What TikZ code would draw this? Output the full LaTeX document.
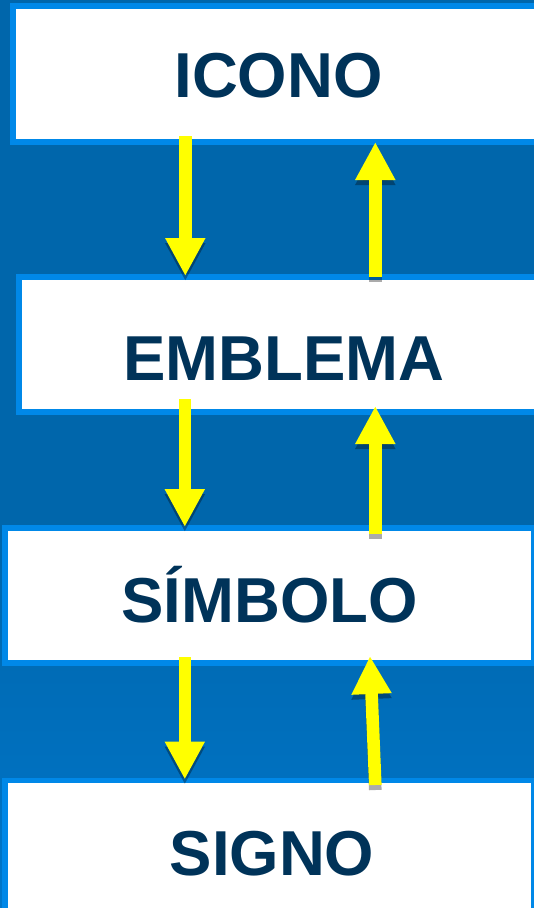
\documentclass[tikz,border=0pt]{standalone}
\usepackage{fontspec}
\setmainfont{Liberation Sans}
\usetikzlibrary{arrows.meta}
\definecolor{bgtop}{HTML}{0066AB}
\definecolor{bgbot}{HTML}{0076CA}
\definecolor{edgeblue}{HTML}{0088E8}
\definecolor{inkblue}{HTML}{003359}
\definecolor{arrowyellow}{HTML}{FFFF00}
\tikzset{
  boxnode/.style={rectangle,draw=edgeblue,fill=white,line width=5.6pt,anchor=north west,inner sep=0pt,outer sep=0pt},
  wordnode/.style={anchor=base,inner sep=0pt,text=inkblue,font=\fontsize{63.5}{70}\selectfont\bfseries},
  blockarrow/.style={line width=12.6pt,-{Triangle[length=38pt,width=37.5pt]}},
  yellowarrow/.style={blockarrow,draw=arrowyellow,color=arrowyellow},
  shadowarrow/.style={blockarrow,draw=black,color=black,opacity=.33,transform canvas={yshift=-5pt}},
}
\begin{document}
\begin{tikzpicture}[x=1pt,y=-1pt]
\clip (0,0) rectangle (534,908);
\fill[bgtop] (0,0) rectangle (534,530);
\shade[top color=bgtop,bottom color=bgbot] (0,530) rectangle (534,908);
% boxes
\node[boxnode,minimum width=556pt,minimum height=136.4pt] (icono) at (12.8,5.8) {};
\node[boxnode,minimum width=556pt,minimum height=135.4pt] (emblema) at (18.8,276.8) {};
\node[boxnode,minimum width=529pt,minimum height=135.2pt] (simbolo) at (4.8,527.8) {};
\node[boxnode,minimum width=529pt,minimum height=160pt] (signo) at (4.8,780.5) {};
% words
\node[wordnode] (ticono) at (278.5,97.7) {ICONO};
\node[wordnode] (temblema) at (284,380.7) {EMBLEMA};
\node[wordnode] (tsimbolo) at (269.5,622.3) {SÍMBOLO};
\node[wordnode] (tsigno) at (272,875) {SIGNO};
% arrow ends
\coordinate (d1a) at (185.3,136);
\coordinate (d1b) at (185.3,276);
\coordinate (u1a) at (375.3,277);
\coordinate (u1b) at (375.3,142);
\coordinate (d2a) at (184.8,399);
\coordinate (d2b) at (184.8,527);
\coordinate (u2a) at (375.3,533.5);
\coordinate (u2b) at (375.3,406);
\coordinate (d3a) at (184.8,657);
\coordinate (d3b) at (184.8,779.5);
\coordinate (u3a) at (375.3,785);
\coordinate (u3b) at (370,656);
% shadows
\draw[shadowarrow] (d1a) -- (d1b);
\draw[shadowarrow] (u1a) -- (u1b);
\draw[shadowarrow] (d2a) -- (d2b);
\draw[shadowarrow] (u2a) -- (u2b);
\draw[shadowarrow] (d3a) -- (d3b);
\draw[shadowarrow] (u3a) -- (u3b);
% arrows
\draw[yellowarrow] (d1a) -- (d1b);
\draw[yellowarrow] (u1a) -- (u1b);
\draw[yellowarrow] (d2a) -- (d2b);
\draw[yellowarrow] (u2a) -- (u2b);
\draw[yellowarrow] (d3a) -- (d3b);
\draw[yellowarrow] (u3a) -- (u3b);
\end{tikzpicture}
\end{document}
